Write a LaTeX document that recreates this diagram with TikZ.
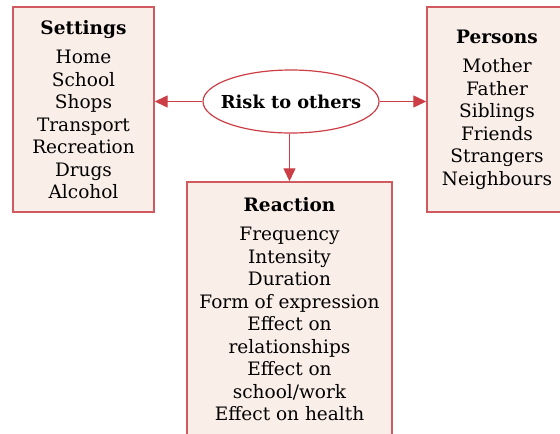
\documentclass[tikz,border=0pt]{standalone}
\usepackage{fontspec}
\setmainfont{DejaVu Serif}
\usetikzlibrary{arrows.meta,shapes.geometric}
\definecolor{boxfill}{HTML}{FAEEE9}
\definecolor{boxline}{HTML}{D05A60}
\definecolor{arrowred}{HTML}{CC3E46}
\tikzset{
  listbox/.style={draw=boxline, fill=boxfill, line width=1.4pt, rectangle, align=center, inner sep=0pt,
    font=\fontsize{18.5}{22.5}\selectfont},
  hub/.style={draw=arrowred, fill=white, line width=1.2pt, ellipse, minimum width=176pt, minimum height=63pt, inner sep=0pt,
    font=\fontsize{17.8}{20}\selectfont\bfseries},
  conn/.style={draw=arrowred, line width=1.3pt, -{Triangle[length=13pt,width=12pt]}},
}
\begin{document}
\begin{tikzpicture}[x=1pt,y=-1pt]
\useasboundingbox (0,0) rectangle (560,434);
\clip (0,0) rectangle (560,434);
\node[listbox, minimum width=141pt, minimum height=205pt] (settings) at (83.5,109.5)
  {{\bfseries Settings}\\[7pt]Home\\School\\Shops\\Transport\\Recreation\\Drugs\\Alcohol};
\node[listbox, minimum width=140pt, minimum height=205pt] (persons) at (497,109.5)
  {{\bfseries Persons}\\[7pt]Mother\\Father\\Siblings\\Friends\\Strangers\\Neighbours};
\node[listbox, minimum width=205pt, minimum height=254pt] (reaction) at (289.5,309)
  {{\bfseries Reaction}\\[7pt]Frequency\\Intensity\\Duration\\Form of expression\\Effect on\\relationships\\Effect on\\school/work\\Effect on health};
\node[hub] (risk) at (291,101.5) {\makebox[0pt]{Risk to others}};
\draw[conn] (risk.west) -- (settings.east |- risk.west);
\draw[conn] (risk.east) -- (persons.west |- risk.east);
\draw[conn] (risk.south -| reaction.north) -- (reaction.north);
\end{tikzpicture}
\end{document}
